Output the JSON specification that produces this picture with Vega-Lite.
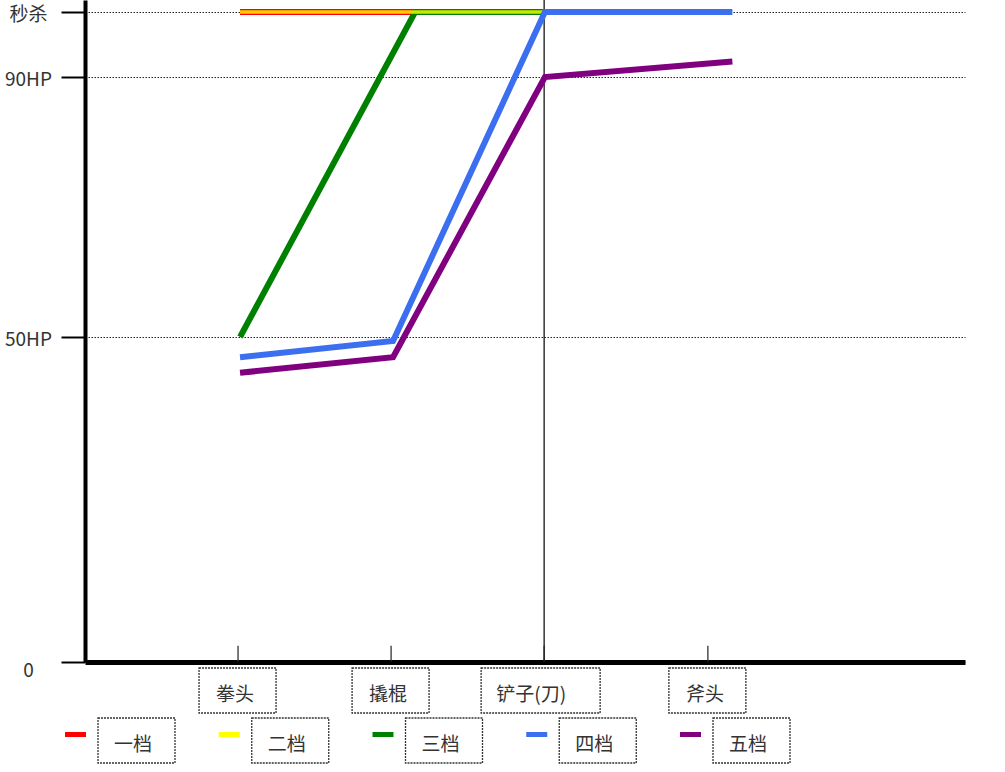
{
  "$schema": "https://vega.github.io/schema/vega-lite/v6.json",
  "width": 880,
  "height": 662,
  "autosize": {"type": "none"},
  "padding": {"left": 85, "top": 0, "right": 40, "bottom": 110},
  "config": {
    "view": {"stroke": null},
    "font": "Noto Sans CJK SC",
    "axisX": {"labels": false, "ticks": false, "grid": false, "domainWidth": 5, "domainColor": "black", "title": null},
    "axisY": {"tickSize": 24, "tickWidth": 2, "tickColor": "black", "domainWidth": 4, "domainColor": "black", "grid": true, "gridDash": [1.5, 1.5], "gridColor": "#222", "gridWidth": 1, "labelFontSize": 19, "labelColor": "#333", "labelAlign": "center", "labelBaseline": "middle", "labelPadding": 33, "title": null, "labelFont": "Noto Sans CJK SC"}
  },
  "datasets": {
    "lines": [
      {"series": "一档", "x": 1.013, "hp": 100},
      {"series": "一档", "x": 2.157, "hp": 100},
      {"series": "二档", "x": 1.013, "hp": 100},
      {"series": "二档", "x": 3.005, "hp": 100},
      {"series": "三档", "x": 1.013, "hp": 50},
      {"series": "三档", "x": 2.157, "hp": 100},
      {"series": "三档", "x": 3.005, "hp": 100},
      {"series": "四档", "x": 1.013, "hp": 46.9},
      {"series": "四档", "x": 2.013, "hp": 49.4},
      {"series": "四档", "x": 3.005, "hp": 100},
      {"series": "四档", "x": 4.23, "hp": 100},
      {"series": "五档", "x": 1.013, "hp": 44.5},
      {"series": "五档", "x": 2.013, "hp": 46.9},
      {"series": "五档", "x": 3.005, "hp": 90},
      {"series": "五档", "x": 4.23, "hp": 92.4}
    ],
    "cats": [
      {"label": "拳头", "pos": 1},
      {"label": "撬棍", "pos": 2},
      {"label": "铲子(刀)", "pos": 3},
      {"label": "斧头", "pos": 4.07}
    ],
    "legend": [
      {"series": "一档"},
      {"series": "二档"},
      {"series": "三档"},
      {"series": "四档"},
      {"series": "五档"}
    ]
  },
  "layer": [
    {
      "layer": [
        {
          "data": {"name": "cats"},
          "transform": [{"filter": "datum.label == '铲子(刀)'"}],
          "mark": {"type": "rule", "color": "black", "strokeWidth": 1.2},
          "encoding": {"x": {"field": "pos", "type": "quantitative", "title": null, "scale": {"domain": [0, 5.75], "nice": false, "zero": false}}}
        },
        {
          "data": {"name": "cats"},
          "mark": {"type": "rule", "color": "#222", "strokeWidth": 1.2},
          "encoding": {
            "x": {"field": "pos", "type": "quantitative", "title": null},
            "y": {"datum": 0},
            "y2": {"datum": 2.5}
          }
        },
        {
          "data": {"name": "lines"},
          "transform": [{"filter": "datum.series == '一档' || datum.series == '三档'"}],
          "mark": {"type": "line", "strokeWidth": 6},
          "encoding": {
            "x": {"field": "x", "type": "quantitative", "title": null, "scale": {"domain": [0, 5.75], "nice": false, "zero": false}},
            "y": {"field": "hp", "type": "quantitative", "title": null, "scale": {"domain": [0, 101.85], "nice": false, "zero": true},
                  "axis": {"values": [0, 50, 90, 100], "labelExpr": "datum.value == 100 ? '秒杀' : (datum.value == 0 ? '0' : datum.value + 'HP')",
                           "labelOffset": {"condition": {"test": "datum.value === 0", "value": 8}, "value": 2}}},
            "color": {"field": "series", "type": "nominal", "legend": null,
                      "scale": {"domain": ["一档", "二档", "三档", "四档", "五档"], "range": ["#ff0000", "#ffff00", "#008000", "#3b6ff0", "#800080"]}}
          }
        },
        {
          "data": {"name": "lines"},
          "transform": [{"filter": "datum.series == '二档'"}],
          "mark": {"type": "line", "strokeWidth": 3.5, "opacity": 0.8},
          "encoding": {
            "x": {"field": "x", "type": "quantitative", "title": null},
            "y": {"field": "hp", "type": "quantitative", "title": null},
            "color": {"field": "series", "type": "nominal", "legend": null}
          }
        },
        {
          "data": {"name": "lines"},
          "transform": [{"filter": "datum.series == '四档' || datum.series == '五档'"}],
          "mark": {"type": "line", "strokeWidth": 6},
          "encoding": {
            "x": {"field": "x", "type": "quantitative", "title": null},
            "y": {"field": "hp", "type": "quantitative", "title": null},
            "color": {"field": "series", "type": "nominal", "legend": null}
          }
        },
        {
          "data": {"name": "cats"},
          "transform": [{"filter": "datum.label != '铲子(刀)'"}],
          "mark": {"type": "rect", "fill": null, "stroke": "#333", "strokeWidth": 1.3, "strokeDash": [2, 1], "xOffset": -39, "x2Offset": 38, "yOffset": 6, "y2Offset": 51},
          "encoding": {
            "x": {"field": "pos", "type": "quantitative", "title": null},
            "x2": {"field": "pos"},
            "y": {"datum": 0},
            "y2": {"datum": 0}
          }
        },
        {
          "data": {"name": "cats"},
          "transform": [{"filter": "datum.label == '铲子(刀)'"}],
          "mark": {"type": "rect", "fill": null, "stroke": "#333", "strokeWidth": 1.3, "strokeDash": [2, 1], "xOffset": -63, "x2Offset": 56, "yOffset": 6, "y2Offset": 51},
          "encoding": {
            "x": {"field": "pos", "type": "quantitative", "title": null},
            "x2": {"field": "pos"},
            "y": {"datum": 0},
            "y2": {"datum": 0}
          }
        },
        {
          "data": {"name": "cats"},
          "transform": [{"filter": "datum.label != '铲子(刀)'"}],
          "mark": {"type": "text", "font": "Noto Sans CJK SC", "fontSize": 19, "color": "#333", "align": "center", "baseline": "middle", "dx": -3, "dy": 33},
          "encoding": {
            "x": {"field": "pos", "type": "quantitative", "title": null},
            "y": {"datum": 0},
            "text": {"field": "label"}
          }
        },
        {
          "data": {"name": "cats"},
          "transform": [{"filter": "datum.label == '铲子(刀)'"}],
          "mark": {"type": "text", "font": "Noto Sans CJK SC", "fontSize": 19, "color": "#333", "align": "center", "baseline": "middle", "dx": -13, "dy": 33},
          "encoding": {
            "x": {"field": "pos", "type": "quantitative", "title": null},
            "y": {"datum": 0},
            "text": {"field": "label"}
          }
        }
      ]
    },
    {
      "data": {"name": "legend"},
      "layer": [
        {
          "mark": {"type": "rect", "xOffset": -11, "x2Offset": 10, "yOffset": 70, "y2Offset": 75},
          "encoding": {
            "x": {"field": "series", "type": "nominal", "axis": null, "scale": {"type": "point", "domain": ["一档", "二档", "三档", "四档", "五档"], "range": [-9, 606], "padding": 0}},
            "x2": {"field": "series"},
            "y": {"datum": 0},
            "y2": {"datum": 0},
            "color": {"field": "series", "type": "nominal", "legend": null}
          }
        },
        {
          "mark": {"type": "rect", "fill": null, "stroke": "#333", "strokeWidth": 1.3, "strokeDash": [2, 1], "xOffset": 22, "x2Offset": 99, "yOffset": 56, "y2Offset": 101},
          "encoding": {
            "x": {"field": "series", "type": "nominal", "axis": null},
            "x2": {"field": "series"},
            "y": {"datum": 0},
            "y2": {"datum": 0}
          }
        },
        {
          "mark": {"type": "text", "font": "Noto Sans CJK SC", "fontSize": 19, "color": "#333", "align": "left", "baseline": "middle", "dx": 38, "dy": 83},
          "encoding": {
            "x": {"field": "series", "type": "nominal", "axis": null},
            "y": {"datum": 0},
            "text": {"field": "series"}
          }
        }
      ]
    }
  ],
  "resolve": {"scale": {"x": "independent"}}
}
